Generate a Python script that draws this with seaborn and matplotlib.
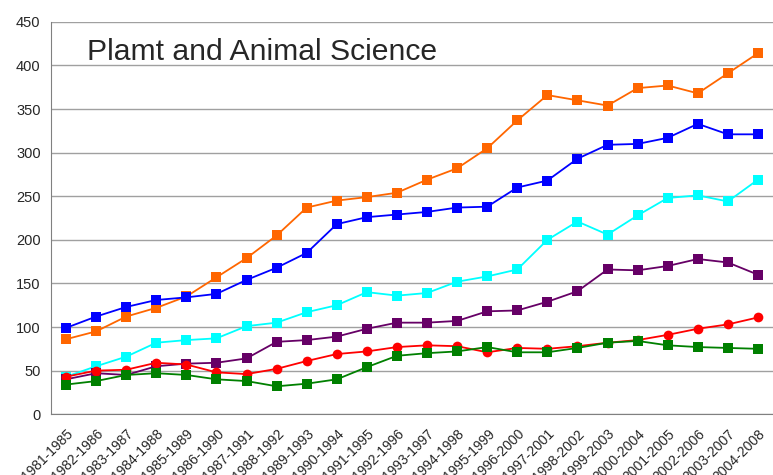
import numpy as np
import pandas as pd
import matplotlib
matplotlib.use("Agg")
import matplotlib.pyplot as plt
import seaborn as sns

periods = [f"{y}-{y + 4}" for y in range(1981, 2005)]

orange = [86, 95, 112, 122, 135, 157, 179, 205, 237, 245, 249, 254, 269, 282,
          305, 337, 366, 360, 354, 374, 377, 368, 391, 414]
blue = [99, 112, 123, 131, 134, 138, 154, 168, 185, 218, 226, 229, 232, 237,
        238, 260, 268, 293, 309, 310, 317, 333, 321, 321]
cyan = [43, 55, 66, 82, 85, 87, 101, 105, 117, 125, 140, 136, 139, 152,
        158, 166, 200, 221, 206, 228, 248, 251, 244, 269]
purple = [40, 47, 45, 55, 58, 59, 64, 83, 85, 89, 98, 105, 105, 107,
          118, 119, 129, 141, 166, 165, 170, 178, 174, 160]
red = [43, 50, 51, 59, 57, 48, 46, 52, 61, 69, 72, 77, 79, 78,
       71, 76, 75, 78, 82, 85, 91, 98, 103, 111]
green = [34, 38, 45, 47, 45, 40, 38, 32, 35, 40, 54, 67, 70, 72,
         77, 71, 71, 76, 82, 84, 79, 77, 76, 75]

series = [
    ("orange", orange, "#ff6600", "s"),
    ("blue", blue, "#0000ff", "s"),
    ("cyan", cyan, "#00ffff", "s"),
    ("purple", purple, "#660066", "s"),
    ("red", red, "#ff0000", "o"),
    ("green", green, "#008000", "s"),
]

sns.set_style("white")
plt.rcParams['font.family'] = ['Liberation Sans', 'DejaVu Sans']

fig = plt.figure(figsize=(7.73, 4.75), dpi=100)
ax = fig.add_axes([0.066, 0.128, 0.934, 0.826])

x = np.arange(len(periods))
for name, vals, color, marker in series:
    df = pd.DataFrame({"x": x, "y": vals})
    sns.lineplot(data=df, x="x", y="y", ax=ax, color=color, marker=marker,
                 markersize=7, markeredgewidth=0, linewidth=1.3)

ax.set_ylim(0, 450)
ax.set_yticks(range(0, 451, 50))
ax.set_xlim(-0.5, len(periods) - 0.5)
ax.set_xticks(x)
ax.set_xticklabels(periods, rotation=45, ha="right", rotation_mode="anchor",
                   fontsize=10)
ax.tick_params(axis="y", labelsize=10.5, length=4, color="#808080")
ax.tick_params(axis="x", length=3, pad=6, color="#808080")
ax.set_xlabel("")
ax.set_ylabel("")
ax.yaxis.grid(True, color="#a0a0a0", linewidth=1)
ax.set_axisbelow(True)
for s in ["top", "right"]:
    ax.spines[s].set_visible(False)
ax.spines["left"].set_color("#808080")
ax.spines["bottom"].set_color("#808080")

ax.text(0.05, 0.922, "Plamt and Animal Science", transform=ax.transAxes,
        fontsize=21.7, va="center", ha="left")

plt.savefig("out.png", dpi=100)
